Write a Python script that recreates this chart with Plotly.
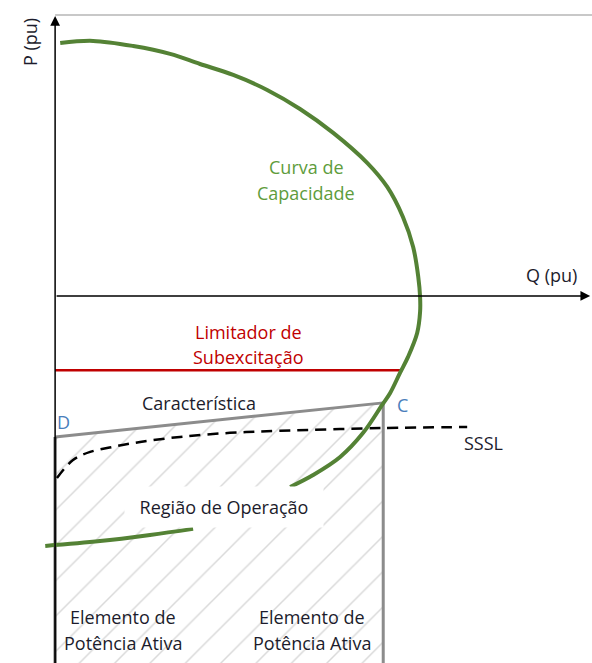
import plotly.graph_objects as go

# capability diagram in pu (Q horizontal, P vertical); origin where the axes cross
Q_MIN, Q_MAX = -0.151, 1.471
P_MIN, P_MAX = -1.445, 1.165

# generator capability curve (upper arc, then the part below the Q axis)
CAP_Q = [0.014, 0.104, 0.214, 0.315, 0.397, 0.488, 0.581, 0.671, 0.762, 0.855, 0.910,
         0.953, 0.981, 0.995, 1.000, 1.000, 0.992, 0.967, 0.945, 0.918, 0.896, 0.844,
         0.781, 0.707, 0.644, None, 0.378, 0.260, 0.123, -0.027]
CAP_P = [0.996, 1.004, 0.984, 0.953, 0.913, 0.870, 0.811, 0.736, 0.642, 0.524, 0.429,
         0.311, 0.193, 0.075, -0.004, -0.063, -0.146, -0.240, -0.303, -0.382, -0.429, -0.539,
         -0.634, -0.705, -0.752, None, -0.917, -0.941, -0.965, -0.984]

# under-excitation limiter
UEL_Q = [0.0, 0.951]
UEL_P = [-0.293, -0.293]

# characteristic D -> C
CHAR_Q = [0.0, 0.899]
CHAR_P = [-0.555, -0.421]

# steady state stability limit
SSSL_Q = [0.005, 0.049, 0.096, 0.159, 0.233, 0.342, 0.479, 0.616, 0.899, 1.129]
SSSL_P = [-0.717, -0.646, -0.614, -0.594, -0.575, -0.555, -0.539, -0.531, -0.520, -0.516]

GREEN = "#548235"
RED = "#c00000"
GRAY = "#8c8c8c"
BLUE = "#4a7ebb"
TEXT = "#1c1c2c"
FONT = "Open Sans"
FSIZE = 18

fig = go.Figure()

# hatched operating region below the characteristic
fig.add_trace(go.Scatter(
    x=[CHAR_Q[0], CHAR_Q[1], CHAR_Q[1], CHAR_Q[0]],
    y=[CHAR_P[0], CHAR_P[1], P_MIN - 0.1, P_MIN - 0.1],
    fill="toself", mode="lines", line=dict(width=0),
    fillcolor="white",
    fillpattern=dict(shape="/", size=25, solidity=0.06, fgcolor="#b4b4b4", bgcolor="white"),
    hoverinfo="skip",
))
fig.add_trace(go.Scatter(x=CHAR_Q, y=CHAR_P, mode="lines", line=dict(color=GRAY, width=3)))
fig.add_trace(go.Scatter(x=[CHAR_Q[1], CHAR_Q[1]], y=[CHAR_P[1], P_MIN - 0.1], mode="lines",
                         line=dict(color=GRAY, width=3)))
fig.add_trace(go.Scatter(x=[CHAR_Q[0], CHAR_Q[0]], y=[CHAR_P[0], P_MIN - 0.1], mode="lines",
                         line=dict(color="#4a4a4a", width=3)))

fig.add_trace(go.Scatter(x=SSSL_Q, y=SSSL_P, mode="lines", line_shape="spline",
                         line=dict(color="black", width=2.5, dash="11px,7px")))
fig.add_trace(go.Scatter(x=UEL_Q, y=UEL_P, mode="lines", line=dict(color=RED, width=2.5)))
fig.add_trace(go.Scatter(x=CAP_Q, y=CAP_P, mode="lines", line_shape="spline",
                         line=dict(color=GREEN, width=4)))

# frame line on top
fig.add_shape(type="line", x0=0, x1=Q_MAX, y0=1.106, y1=1.106,
              line=dict(color="#c8c8c8", width=2))

# axes with arrows
fig.add_annotation(x=1.466, y=0, ax=0, ay=0, xref="x", yref="y", axref="x", ayref="y",
                   text="", showarrow=True, arrowhead=2, arrowsize=1.3, arrowwidth=1.5,
                   arrowcolor="black")
fig.add_annotation(x=0, y=1.102, ax=0, ay=P_MIN - 0.1, xref="x", yref="y", axref="x", ayref="y",
                   text="", showarrow=True, arrowhead=2, arrowsize=1.3, arrowwidth=1.5,
                   arrowcolor="black")

labels = [
    ("Q (pu)", 1.359, 0.083, TEXT),
    ("Curva de", 0.688, 0.508, "#5e9c3c"),
    ("Capacidade", 0.688, 0.406, "#5e9c3c"),
    ("Limitador de", 0.529, -0.142, RED),
    ("Subexcitação", 0.529, -0.240, RED),
    ("Característica", 0.395, -0.421, TEXT),
    ("D", 0.022, -0.496, BLUE),
    ("C", 0.951, -0.429, BLUE),
    ("SSSL", 1.173, -0.579, TEXT),
    ("Elemento de", 0.186, -1.264, TEXT),
    ("Potência Ativa", 0.186, -1.366, TEXT),
    ("Elemento de", 0.704, -1.264, TEXT),
    ("Potência Ativa", 0.704, -1.366, TEXT),
]
for text, q, p, color in labels:
    fig.add_annotation(x=q, y=p, text=text, showarrow=False,
                       font=dict(family=FONT, size=FSIZE, color=color))

fig.add_annotation(x=0.463, y=-0.831, text="Região de Operação", showarrow=False,
                   bgcolor="white", width=196, height=38,
                   font=dict(family=FONT, size=FSIZE, color=TEXT))
fig.add_annotation(x=-0.0685, y=1.0, text="P (pu)", showarrow=False, textangle=-90,
                   font=dict(family=FONT, size=FSIZE, color=TEXT))

fig.update_layout(
    width=592, height=663,
    margin=dict(l=0, r=0, t=0, b=0),
    paper_bgcolor="white", plot_bgcolor="white",
    showlegend=False,
    xaxis=dict(range=[Q_MIN, Q_MAX], visible=False, fixedrange=True),
    yaxis=dict(range=[P_MIN, P_MAX], visible=False, fixedrange=True),
)

# the page body has a default 8px margin; drop it so the figure sits at 0,0
fig.write_html("out.html", config={"displayModeBar": False},
               post_script="document.body.style.margin='0px';")
